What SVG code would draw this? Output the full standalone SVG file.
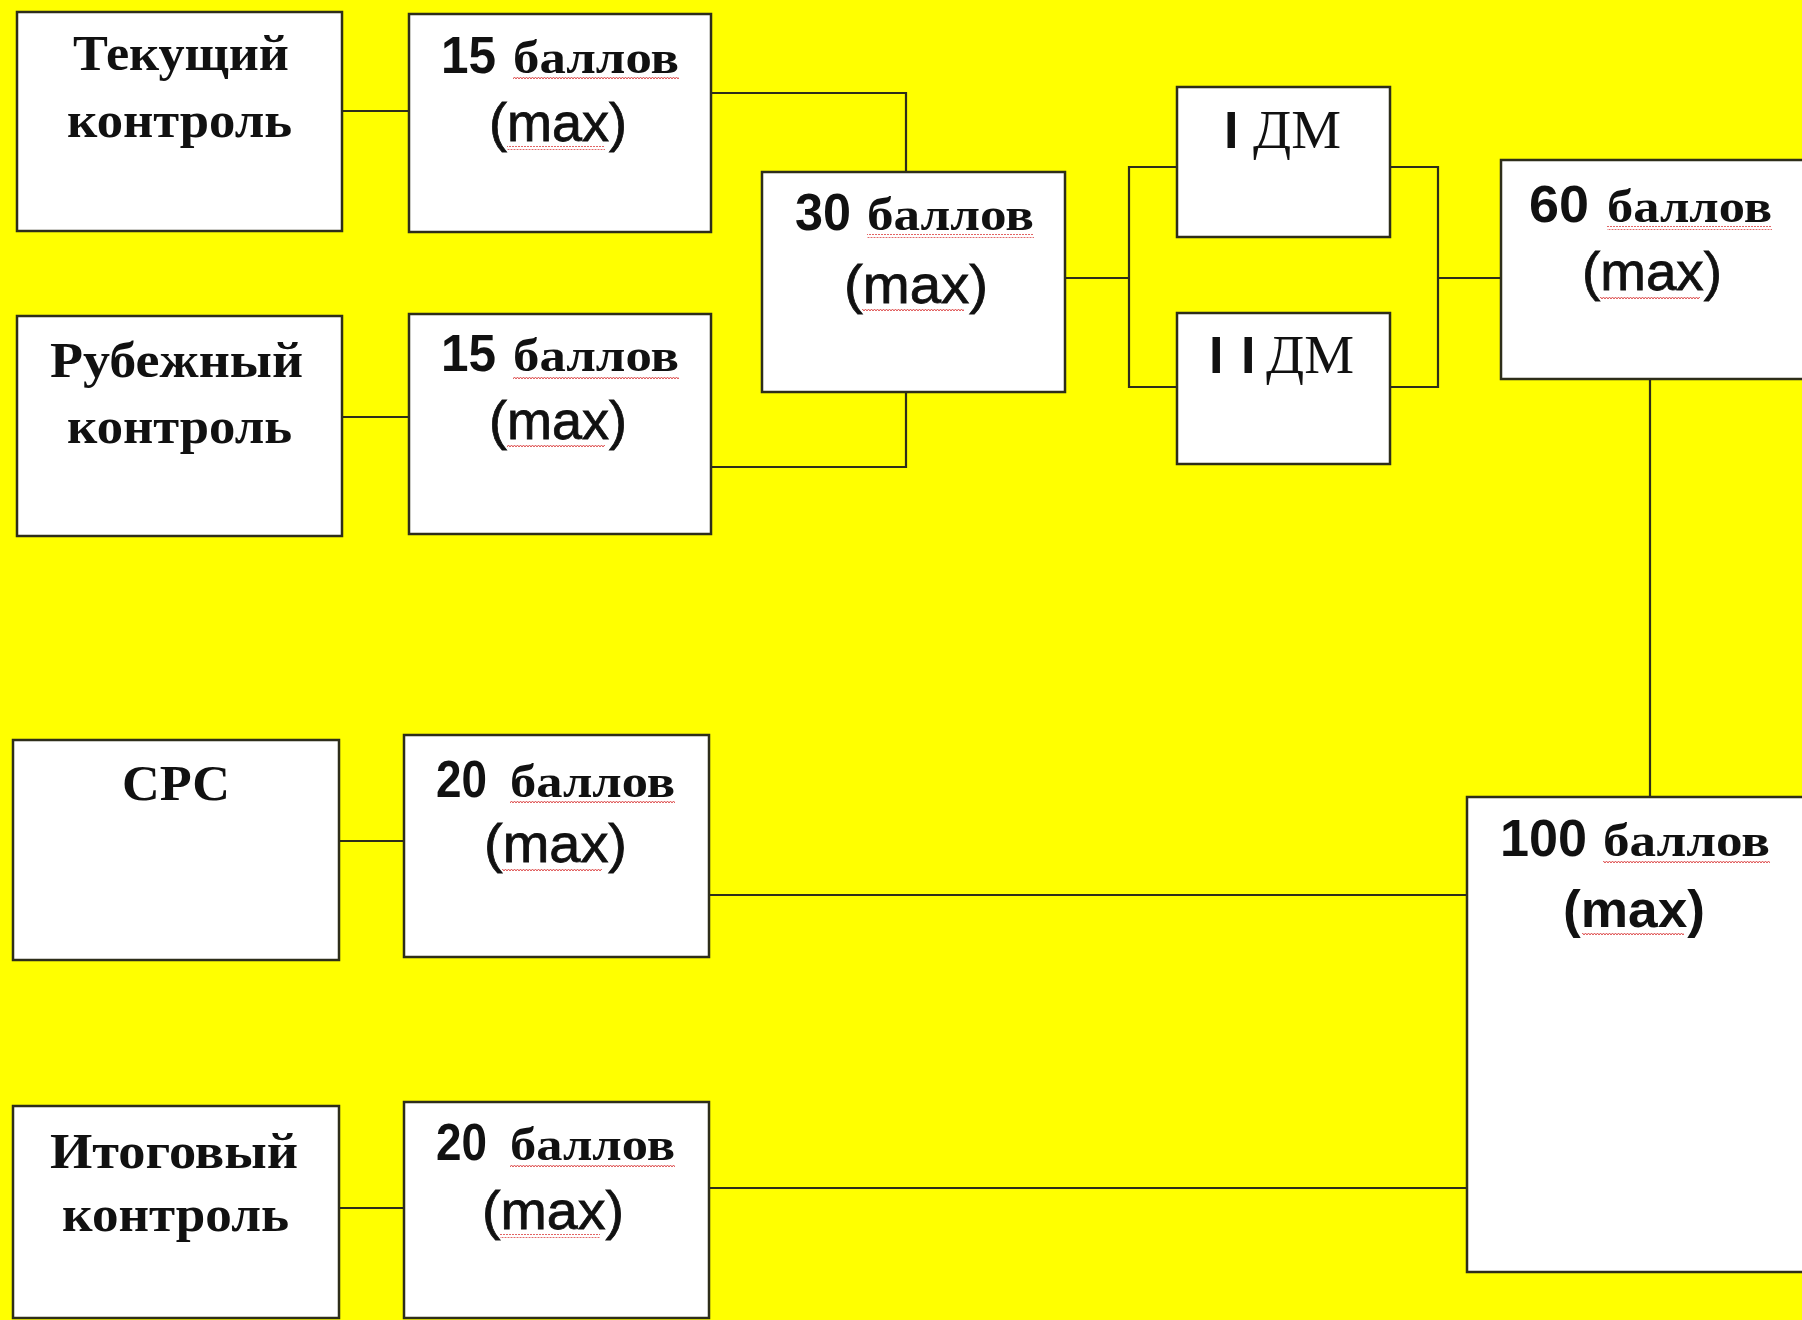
<svg xmlns="http://www.w3.org/2000/svg" width="1802" height="1320" viewBox="0 0 1802 1320">
<defs>
<pattern id="squig" width="6" height="4" patternUnits="userSpaceOnUse">
<path d="M0,3 L1.5,1 L3,3 L4.5,1 L6,3" fill="none" stroke="#d83030" stroke-width="1"/>
</pattern>
</defs>
<style>
.bg{fill:#ffff00}
.box{fill:#ffffff;stroke:#2e2e1a;stroke-width:2.5}
.con{fill:none;stroke:#2e2e1a;stroke-width:2.2}
.lbl{font-family:"Liberation Serif","Times New Roman",serif;font-weight:bold;font-size:51px;fill:#111}
.dm{font-family:"Liberation Serif","Times New Roman",serif;font-size:55px;fill:#111}
.bar{font-family:"Liberation Sans",Arial,sans-serif;font-weight:bold;font-size:52px;fill:#111}
.num{font-family:"Liberation Sans",Arial,sans-serif;font-weight:bold;font-size:52px;fill:#111}
.bal{font-family:"Liberation Serif","Times New Roman",serif;font-weight:bold;font-size:46px;fill:#111}
.max{font-family:"Liberation Sans",Arial,sans-serif;font-size:54px;fill:#111;stroke:#111;stroke-width:0.8}
.maxb{font-family:"Liberation Sans",Arial,sans-serif;font-weight:bold;font-size:52px;fill:#111}
.sq{fill:url(#squig);opacity:0.85}
</style>
<rect class="bg" x="0" y="0" width="1802" height="1320"/>

<g id="connectors">
<line class="con" x1="342" y1="111" x2="409" y2="111"/>
<line class="con" x1="342" y1="417" x2="409" y2="417"/>
<polyline class="con" points="711,93 906,93 906,172"/>
<polyline class="con" points="711,467 906,467 906,392"/>
<line class="con" x1="1065" y1="278" x2="1129" y2="278"/>
<polyline class="con" points="1177,167 1129,167 1129,387 1177,387"/>
<polyline class="con" points="1390,167 1438,167 1438,387 1390,387"/>
<line class="con" x1="1438" y1="278" x2="1501" y2="278"/>
<line class="con" x1="1650" y1="379" x2="1650" y2="797"/>
<line class="con" x1="339" y1="841" x2="404" y2="841"/>
<line class="con" x1="709" y1="895" x2="1467" y2="895"/>
<line class="con" x1="339" y1="1208" x2="404" y2="1208"/>
<line class="con" x1="709" y1="1188" x2="1467" y2="1188"/>
</g>

<g id="tekushchiy">
<rect class="box" x="17" y="12" width="325" height="219"/>
<text class="lbl" x="73" y="70" textLength="216" lengthAdjust="spacingAndGlyphs">Текущий</text>
<text class="lbl" x="67" y="137" textLength="225" lengthAdjust="spacingAndGlyphs">контроль</text>
</g>

<g id="b15a">
<rect class="box" x="409" y="14" width="302" height="218"/>
<text class="num" x="441" y="73" textLength="55" lengthAdjust="spacingAndGlyphs">15</text>
<text class="bal" x="513" y="73" textLength="166" lengthAdjust="spacingAndGlyphs">баллов</text>
<rect class="sq" x="513" y="77" width="166" height="4"/>
<text class="max" x="489" y="141" textLength="138" lengthAdjust="spacingAndGlyphs">(max)</text>
<rect class="sq" x="507" y="146" width="98" height="4"/>
</g>

<g id="rubezhny">
<rect class="box" x="17" y="316" width="325" height="220"/>
<text class="lbl" x="50" y="377" textLength="253" lengthAdjust="spacingAndGlyphs">Рубежный</text>
<text class="lbl" x="67" y="443" textLength="225" lengthAdjust="spacingAndGlyphs">контроль</text>
</g>

<g id="b15b">
<rect class="box" x="409" y="314" width="302" height="220"/>
<text class="num" x="441" y="371" textLength="55" lengthAdjust="spacingAndGlyphs">15</text>
<text class="bal" x="513" y="371" textLength="166" lengthAdjust="spacingAndGlyphs">баллов</text>
<rect class="sq" x="513" y="375" width="166" height="4"/>
<text class="max" x="489" y="439" textLength="138" lengthAdjust="spacingAndGlyphs">(max)</text>
<rect class="sq" x="507" y="444" width="98" height="4"/>
</g>

<g id="b30">
<rect class="box" x="762" y="172" width="303" height="220"/>
<text class="num" x="795" y="230" textLength="56" lengthAdjust="spacingAndGlyphs">30</text>
<text class="bal" x="867" y="230" textLength="167" lengthAdjust="spacingAndGlyphs">баллов</text>
<rect class="sq" x="867" y="234" width="167" height="4"/>
<text class="max" x="844" y="303" textLength="144" lengthAdjust="spacingAndGlyphs">(max)</text>
<rect class="sq" x="862" y="308" width="102" height="4"/>
</g>

<g id="dm1">
<rect class="box" x="1177" y="87" width="213" height="150"/>
<text class="bar" x="1224" y="148">I</text>
<text class="dm" x="1253" y="148" textLength="88" lengthAdjust="spacingAndGlyphs">ДМ</text>
</g>

<g id="dm2">
<rect class="box" x="1177" y="313" width="213" height="151"/>
<text class="bar" x="1209" y="373">I</text>
<text class="bar" x="1241" y="373">I</text>
<text class="dm" x="1266" y="373" textLength="88" lengthAdjust="spacingAndGlyphs">ДМ</text>
</g>

<g id="b60">
<rect class="box" x="1501" y="160" width="312" height="219"/>
<text class="num" x="1529" y="222" textLength="60" lengthAdjust="spacingAndGlyphs">60</text>
<text class="bal" x="1607" y="222" textLength="165" lengthAdjust="spacingAndGlyphs">баллов</text>
<rect class="sq" x="1607" y="226" width="165" height="4"/>
<text class="max" x="1582" y="290" textLength="140" lengthAdjust="spacingAndGlyphs">(max)</text>
<rect class="sq" x="1600" y="295" width="100" height="4"/>
</g>

<g id="b100">
<rect class="box" x="1467" y="797" width="346" height="475"/>
<text class="num" x="1500" y="856" textLength="87" lengthAdjust="spacingAndGlyphs">100</text>
<text class="bal" x="1603" y="856" textLength="167" lengthAdjust="spacingAndGlyphs">баллов</text>
<rect class="sq" x="1603" y="860" width="167" height="4"/>
<text class="maxb" x="1563" y="927" textLength="142" lengthAdjust="spacingAndGlyphs">(max)</text>
<rect class="sq" x="1582" y="932" width="102" height="4"/>
</g>

<g id="srs">
<rect class="box" x="13" y="740" width="326" height="220"/>
<text class="lbl" x="122" y="800" textLength="108" lengthAdjust="spacingAndGlyphs">СРС</text>
</g>

<g id="b20a">
<rect class="box" x="404" y="735" width="305" height="222"/>
<text class="num" x="436" y="797" textLength="51" lengthAdjust="spacingAndGlyphs">20</text>
<text class="bal" x="510" y="797" textLength="165" lengthAdjust="spacingAndGlyphs">баллов</text>
<rect class="sq" x="510" y="801" width="165" height="4"/>
<text class="max" x="484" y="862" textLength="143" lengthAdjust="spacingAndGlyphs">(max)</text>
<rect class="sq" x="502" y="867" width="100" height="4"/>
</g>

<g id="itogovy">
<rect class="box" x="13" y="1106" width="326" height="212"/>
<text class="lbl" x="50" y="1168" textLength="248" lengthAdjust="spacingAndGlyphs">Итоговый</text>
<text class="lbl" x="62" y="1231" textLength="227" lengthAdjust="spacingAndGlyphs">контроль</text>
</g>

<g id="b20b">
<rect class="box" x="404" y="1102" width="305" height="216"/>
<text class="num" x="436" y="1160" textLength="51" lengthAdjust="spacingAndGlyphs">20</text>
<text class="bal" x="510" y="1160" textLength="165" lengthAdjust="spacingAndGlyphs">баллов</text>
<rect class="sq" x="510" y="1164" width="165" height="4"/>
<text class="max" x="482" y="1229" textLength="142" lengthAdjust="spacingAndGlyphs">(max)</text>
<rect class="sq" x="500" y="1234" width="100" height="4"/>
</g>
</svg>
